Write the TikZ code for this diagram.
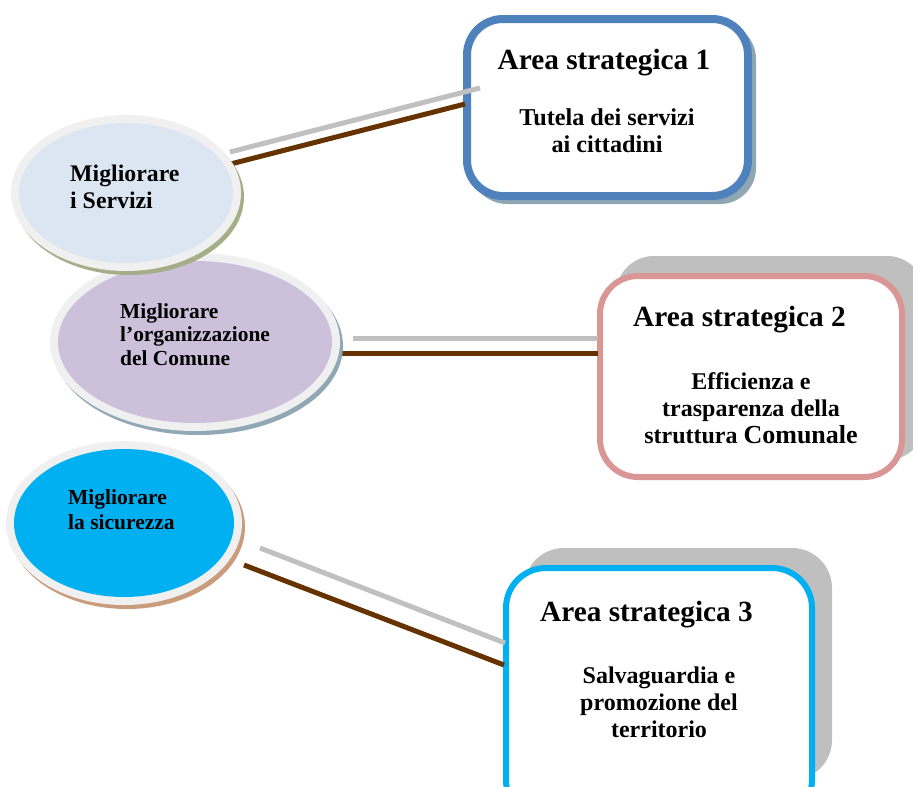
\documentclass[tikz,border=0pt]{standalone}
\usepackage{fontspec}
\setmainfont{Liberation Serif}
\definecolor{ringgray}{HTML}{F0F0F0}
\definecolor{fillA}{HTML}{DCE6F2}
\definecolor{fillB}{HTML}{CCC0DA}
\definecolor{fillC}{HTML}{00B0F0}
\definecolor{shadA}{HTML}{A6AE88}
\definecolor{shadB}{HTML}{8FA8B4}
\definecolor{shadC}{HTML}{C89C7C}
\definecolor{blueB}{HTML}{4F81BD}
\definecolor{pinkB}{HTML}{D99694}
\definecolor{cyanB}{HTML}{00B0F0}
\definecolor{boxshadow}{HTML}{BFBFBF}
\definecolor{tealshadow}{HTML}{8FA7B3}
\definecolor{brownline}{HTML}{663300}
\definecolor{grayline}{HTML}{C0C0C0}
\tikzset{
  greyconn/.style={draw=grayline,line width=5pt},
  brownconn/.style={draw=brownline,line width=5pt},
  ringell/.style={fill=ringgray},
  txtE/.style={inner sep=0pt,align=left,font=\bfseries\fontsize{#1}{#1}\selectfont},
  txtB/.style={inner sep=0pt,align=center},
  titlefont/.style={inner sep=0pt,font=\bfseries\fontsize{29.3}{29.3}\selectfont},
}
\begin{document}
\begin{tikzpicture}[x=1pt,y=-1pt]
\useasboundingbox (0,0) rectangle (913,787);
\clip (0,0) rectangle (913,787);
% ---------- boxes ----------
% box 1
\fill[tealshadow,rounded corners=36pt] (471,23) rectangle (756,204);
\draw[blueB,line width=8pt,fill=white,rounded corners=36pt] (467,19) rectangle (748,196);
% box 2
\fill[boxshadow,rounded corners=38pt] (616,256) rectangle (925,460);
\draw[pinkB,line width=6pt,fill=white,rounded corners=38pt] (600,276) rectangle (902,477);
% box 3
\fill[boxshadow,rounded corners=40pt] (524,548) rectangle (832,780);
\draw[cyanB,line width=6pt,fill=white,rounded corners=40pt] (506,568) rectangle (812,820);
% ---------- connectors ----------
\coordinate (g1a) at (230,152); \coordinate (g1b) at (480,88);
\coordinate (b1a) at (215,168); \coordinate (b1b) at (465,104);
\coordinate (g2a) at (353,338); \coordinate (g2b) at (598,338);
\coordinate (b2a) at (342,353); \coordinate (b2b) at (598,353);
\coordinate (g3a) at (260,548); \coordinate (g3b) at (505,643);
\coordinate (b3a) at (244,565); \coordinate (b3b) at (504,665);
\draw[greyconn] (g1a) -- (g1b);
\draw[brownconn] (b1a) -- (b1b);
\draw[greyconn] (g2a) -- (g2b);
\draw[brownconn] (b2a) -- (b2b);
\draw[greyconn] (g3a) -- (g3b);
\draw[brownconn] (b3a) -- (b3b);
% ---------- ellipses ----------
% ellipse 2 (drawn first, ellipse 1 overlaps it)
\fill[shadB] (198,346) ellipse [x radius=145, y radius=89];
\fill[ringell] (195,342) ellipse [x radius=145, y radius=89];
\fill[fillB] (195,342) ellipse [x radius=137, y radius=81];
% ellipse 1
\fill[shadA] (129,197) ellipse [x radius=115, y radius=78];
\fill[ringell] (126,193) ellipse [x radius=115, y radius=78];
\fill[fillA] (126,193) ellipse [x radius=107, y radius=70];
% ellipse 3
\fill[shadC] (127,527) ellipse [x radius=118, y radius=82];
\fill[ringell] (124,523) ellipse [x radius=118, y radius=82];
\fill[fillC] (124,523) ellipse [x radius=110, y radius=74];
% ---------- texts ----------
\node[txtE=23.8,anchor=north west] (e1) at (70,165) {Migliorare\\[3pt]i Servizi};
\node[txtE=21.4,anchor=north west] (e2) at (120,303) {Migliorare\\[2.5pt]l’organizzazione\\[2.5pt]del Comune};
\node[txtE=21.5,anchor=north west] (e3) at (68,489) {Migliorare\\[3.5pt]la sicurezza};
\node[titlefont,anchor=north] (t1) at (604,49) {Area strategica 1};
\node[txtB,font=\bfseries\fontsize{24.2}{27}\selectfont,anchor=north] (s1) at (607,109) {Tutela dei servizi\\ai cittadini};
\node[titlefont,anchor=north west] (t2) at (633,306) {Area strategica 2};
\node[txtB,font=\bfseries\fontsize{24}{27}\selectfont,anchor=north] (s2) at (751,372) {Efficienza e\\trasparenza della\\struttura {\fontsize{26}{27}\selectfont Comunale}};
\node[titlefont,anchor=north west] (t3) at (540,601) {Area strategica 3};
\node[txtB,font=\bfseries\fontsize{24}{27}\selectfont,anchor=north] (s3) at (659,667) {Salvaguardia e\\promozione del\\territorio};
\end{tikzpicture}
\end{document}
